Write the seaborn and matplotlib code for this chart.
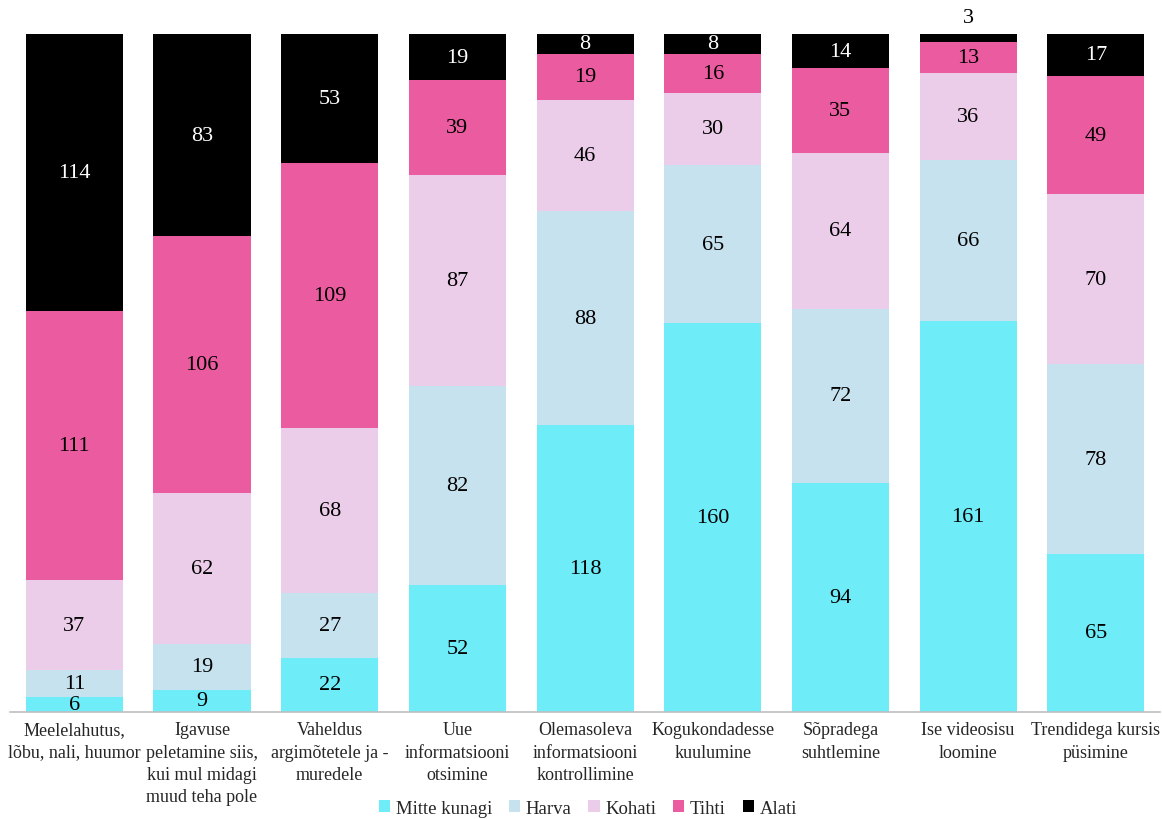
import numpy as np
import pandas as pd
import matplotlib
matplotlib.use("Agg")
import matplotlib.pyplot as plt
import seaborn as sns
from matplotlib.patches import Patch

categories = [
    "Meelelahutus,\nlõbu, nali, huumor",
    "Igavuse\npeletamine siis,\nkui mul midagi\nmuud teha pole",
    "Vaheldus\nargimõtetele ja -\nmuredele",
    "Uue\ninformatsiooni\notsimine",
    "Olemasoleva\ninformatsiooni\nkontrollimine",
    "Kogukondadesse\nkuulumine",
    "Sõpradega\nsuhtlemine",
    "Ise videosisu\nloomine",
    "Trendidega kursis\npüsimine",
]
series_names = ["Mitte kunagi", "Harva", "Kohati", "Tihti", "Alati"]
mitte_kunagi = [6, 9, 22, 52, 118, 160, 94, 161, 65]
harva = [11, 19, 27, 82, 88, 65, 72, 66, 78]
kohati = [37, 62, 68, 87, 46, 30, 64, 36, 70]
tihti = [111, 106, 109, 39, 19, 16, 35, 13, 49]
alati = [114, 83, 53, 19, 8, 8, 14, 3, 17]

colors = ["#6EECF8", "#C6E2EE", "#EBCDE9", "#EA5B9F", "#000000"]

sns.set_theme(style="white")
plt.rcParams["font.family"] = ["Liberation Serif", "DejaVu Serif"]

series = [mitte_kunagi, harva, kohati, tihti, alati]
data = np.array(series, dtype=float)
cum = np.cumsum(data, axis=0)

fig, ax = plt.subplots(figsize=(11.62, 8.2), dpi=100)
fig.subplots_adjust(left=0.009, right=0.998, top=0.957, bottom=0.131)

# draw cumulative bars from top series down so they stack visually
for i in range(len(series) - 1, -1, -1):
    df = pd.DataFrame({"cat": categories, "val": cum[i]})
    sns.barplot(data=df, x="cat", y="val", color=colors[i], width=0.76,
                saturation=1, ax=ax, errorbar=None, linewidth=0)

for i in range(len(series)):
    for j in range(len(categories)):
        v = data[i, j]
        bottom = cum[i, j] - v
        txtcol = "white" if i == 4 else "black"
        if v < 5:
            ax.text(j, cum[i, j] + 3, f"{int(v)}", ha="center", va="bottom",
                    fontsize=16, color="black")
        else:
            ax.text(j, bottom + v / 2, f"{int(v)}", ha="center", va="center",
                    fontsize=16, color=txtcol)

ax.set_ylim(0, 279)
ax.set_xlim(-0.5, len(categories) - 0.5)
ax.set_xlabel("")
ax.set_ylabel("")
ax.set_yticks([])
for s in ["top", "right", "left"]:
    ax.spines[s].set_visible(False)
ax.spines["bottom"].set_color("#BFBFBF")
ax.spines["bottom"].set_linewidth(1.2)
ax.tick_params(axis="x", length=0, labelsize=13, pad=7)
for lbl in ax.get_xticklabels():
    lbl.set_linespacing(1.4)

handles = [Patch(facecolor=c, edgecolor="none") for c in colors]
fig.legend(handles, series_names, loc="lower center", ncol=5, frameon=False,
           fontsize=13.5, handlelength=0.6, handleheight=0.6, handletextpad=0.3,
           columnspacing=0.9, bbox_to_anchor=(0.506, -0.018))

fig.savefig("out.png", dpi=100)
